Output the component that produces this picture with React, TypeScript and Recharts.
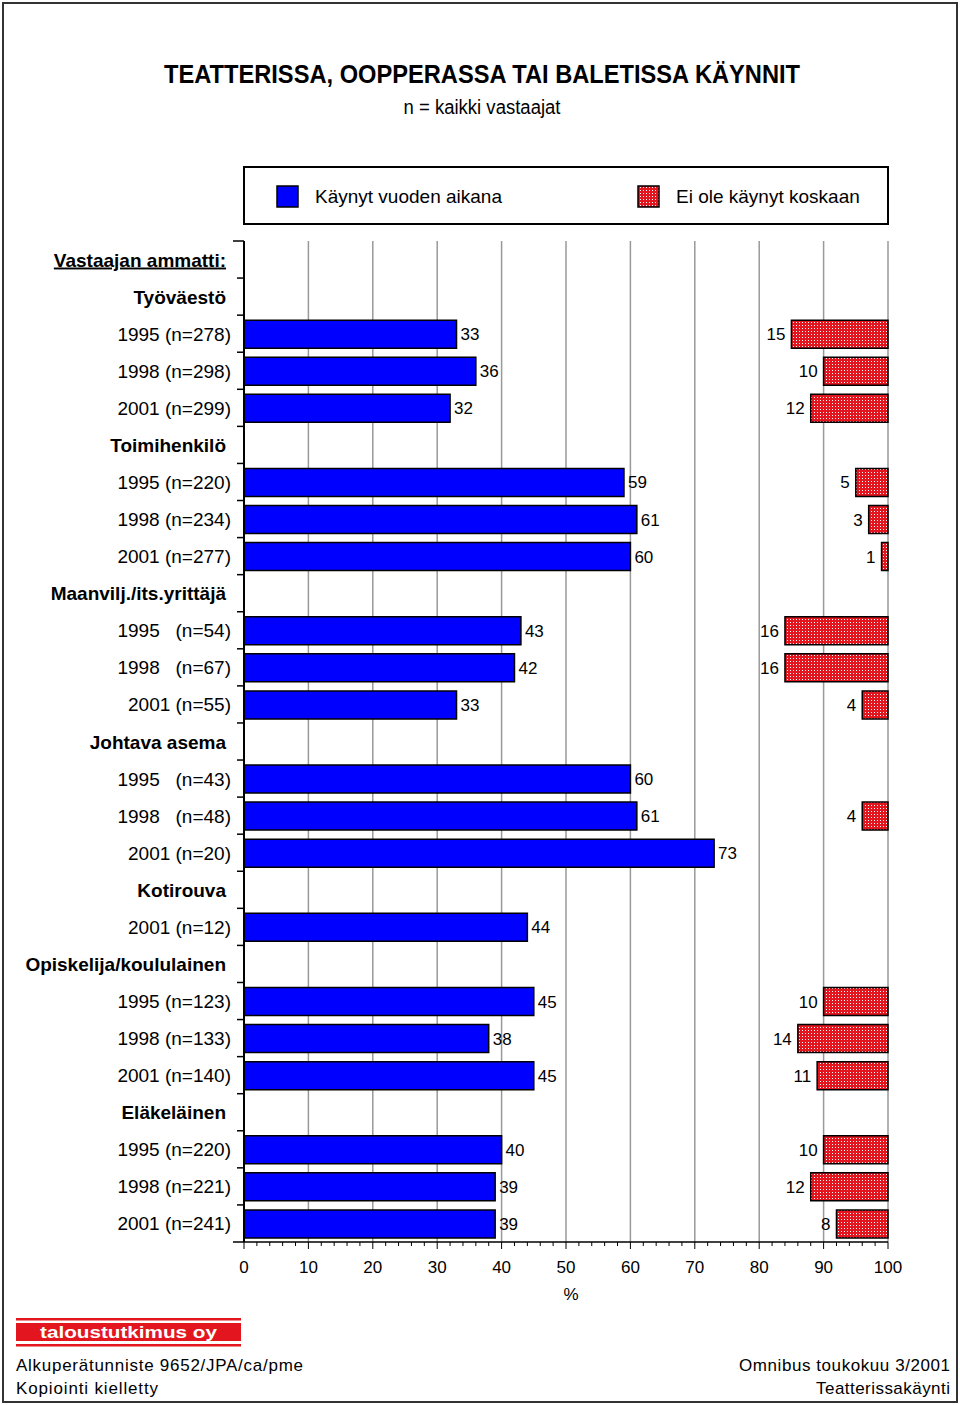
import React from "react";
import { BarChart, Bar, XAxis, YAxis, CartesianGrid, LabelList } from "recharts";

// Rows top to bottom (title row, group headers and yearly rows)
const ROW_LABELS = [
  "Vastaajan ammatti:",
  "Työväestö",
  "1995 (n=278)",
  "1998 (n=298)",
  "2001 (n=299)",
  "Toimihenkilö",
  "1995 (n=220)",
  "1998 (n=234)",
  "2001 (n=277)",
  "Maanvilj./its.yrittäjä",
  "1995   (n=54)",
  "1998   (n=67)",
  "2001 (n=55)",
  "Johtava asema",
  "1995   (n=43)",
  "1998   (n=48)",
  "2001 (n=20)",
  "Kotirouva",
  "2001 (n=12)",
  "Opiskelija/koululainen",
  "1995 (n=123)",
  "1998 (n=133)",
  "2001 (n=140)",
  "Eläkeläinen",
  "1995 (n=220)",
  "1998 (n=221)",
  "2001 (n=241)",
];

const GROUP_ROWS = [
  "Työväestö",
  "Toimihenkilö",
  "Maanvilj./its.yrittäjä",
  "Johtava asema",
  "Kotirouva",
  "Opiskelija/koululainen",
  "Eläkeläinen",
];

// "Käynyt vuoden aikana" (%)
const VISITED = [
  null, null, 33, 36, 32, null, 59, 61, 60, null, 43, 42, 33, null,
  60, 61, 73, null, 44, null, 45, 38, 45, null, 40, 39, 39,
];

// "Ei ole käynyt koskaan" (%)
const NEVER_VISITED = [
  null, null, 15, 10, 12, null, 5, 3, 1, null, 16, 16, 4, null,
  null, 4, null, null, null, null, 10, 14, 11, null, 10, 12, 8,
];

const MAJOR_TICKS = [0, 10, 20, 30, 40, 50, 60, 70, 80, 90, 100];
const MINOR_TICKS = [
  0, 2, 4, 6, 8, 10, 12, 14, 16, 18, 20, 22, 24, 26, 28, 30, 32, 34, 36, 38,
  40, 42, 44, 46, 48, 50, 52, 54, 56, 58, 60, 62, 64, 66, 68, 70, 72, 74, 76,
  78, 80, 82, 84, 86, 88, 90, 92, 94, 96, 98, 100,
];
const GRID_LINES = [10, 20, 30, 40, 50, 60, 70, 80, 90, 100];

const FONT = "'Liberation Sans', Arial, Helvetica, sans-serif";
const BLUE = "#0000ff";
const RED = "#e3161f";

const rows = ROW_LABELS.map((label, i) => {
  const v = VISITED[i];
  const n = NEVER_VISITED[i];
  return {
    key: String(i),
    visited: v ?? undefined,
    // empty space so the red bar ends at 100 %
    gap: v != null && n != null ? 100 - v - n : undefined,
    never: n ?? undefined,
  };
});

const PLOT_TOP = 241;
const PLOT_HEIGHT = 1001;
const HALF_BAND = PLOT_HEIGHT / ROW_LABELS.length / 2;

// vertical grid only at every 10 %, placed through the x axis scale
const gridX = (props: any) => {
  const { xAxis, offset } = props;
  if (xAxis && typeof xAxis.scale === "function") {
    return GRID_LINES.map((v) => xAxis.scale(v));
  }
  return GRID_LINES.map((v) => offset.left + (v / 100) * offset.width);
};

function RowTick(props: any) {
  const { x, y, payload } = props;
  const i = Number(payload.value);
  const label = ROW_LABELS[i];
  const isTitle = i === 0;
  const isGroup = GROUP_ROWS.includes(label);
  const last = i === ROW_LABELS.length - 1;
  return (
    <g>
      <line x1={x - (isTitle ? 11 : 7)} x2={x} y1={y - HALF_BAND} y2={y - HALF_BAND} stroke="#000" strokeWidth={1.5} />
      {last && <line x1={x - 11} x2={x} y1={y + HALF_BAND} y2={y + HALF_BAND} stroke="#000" strokeWidth={1.5} />}
      <text
        x={isTitle || isGroup ? x - 18 : x - 13}
        y={y + 7}
        textAnchor="end"
        fontSize={19}
        fontFamily={FONT}
        fontWeight={isTitle || isGroup ? 700 : 400}
        textDecoration={isTitle ? "underline" : undefined}
        fill="#000"
        style={{ whiteSpace: "pre" }}
      >
        {label}
      </text>
    </g>
  );
}

function PercentTick(props: any) {
  const { x, y, payload } = props;
  const major = MAJOR_TICKS.includes(payload.value);
  return (
    <g>
      <line x1={x} x2={x} y1={y} y2={y + (major ? 7 : 4)} stroke="#000" strokeWidth={1} />
      {major && (
        <text x={x} y={y + 31} textAnchor="middle" fontSize={17} fontFamily={FONT} fill="#000">
          {payload.value}
        </text>
      )}
    </g>
  );
}

function Overlay() {
  return (
    <svg width={960} height={1405} style={{ position: "absolute", left: 0, top: 0, pointerEvents: "none" }}>
      <defs>
        <pattern id="dotsLegend" width={3} height={3} patternUnits="userSpaceOnUse">
          <rect width={3} height={3} fill={RED} />
          <rect x={1} y={1} width={1} height={1} fill="#fff" />
        </pattern>
      </defs>
      <rect x={3} y={3} width={954} height={1399} fill="none" stroke="#333" strokeWidth={2} />

      <text x={482} y={83} textAnchor="middle" fontFamily={FONT} fontWeight={700} fontSize={25}
        textLength={636} lengthAdjust="spacingAndGlyphs">
        TEATTERISSA, OOPPERASSA TAI BALETISSA KÄYNNIT
      </text>
      <text x={482} y={114} textAnchor="middle" fontFamily={FONT} fontSize={20}
        textLength={157} lengthAdjust="spacingAndGlyphs">
        n = kaikki vastaajat
      </text>

      {/* legend */}
      <rect x={244} y={167} width={644} height={57} fill="#fff" stroke="#000" strokeWidth={2} />
      <rect x={277} y={186} width={21} height={21} fill={BLUE} stroke="#000" strokeWidth={1.5} />
      <text x={315} y={203} fontFamily={FONT} fontSize={19}>Käynyt vuoden aikana</text>
      <rect x={638} y={186} width={21} height={21} fill="url(#dotsLegend)" stroke="#000" strokeWidth={1.5} />
      <text x={676} y={203} fontFamily={FONT} fontSize={19}>Ei ole käynyt koskaan</text>

      <text x={571} y={1300} textAnchor="middle" fontFamily={FONT} fontSize={17}>%</text>

      {/* logo */}
      <rect x={16} y={1318} width={225} height={2.5} fill={RED} />
      <rect x={16} y={1323} width={225} height={18} fill={RED} />
      <rect x={16} y={1344} width={225} height={2.5} fill={RED} />
      <text x={40} y={1338} fontFamily={FONT} fontWeight={700} fontSize={17} fill="#fff"
        textLength={177} lengthAdjust="spacingAndGlyphs">
        taloustutkimus oy
      </text>

      {/* footer */}
      <text x={16} y={1371} fontFamily={FONT} fontSize={17} textLength={287} lengthAdjust="spacing">
        Alkuperätunniste 9652/JPA/ca/pme
      </text>
      <text x={16} y={1394} fontFamily={FONT} fontSize={17} textLength={142} lengthAdjust="spacing">
        Kopiointi kielletty
      </text>
      <text x={739} y={1371} fontFamily={FONT} fontSize={17} textLength={211} lengthAdjust="spacing">
        Omnibus toukokuu 3/2001
      </text>
      <text x={816} y={1394} fontFamily={FONT} fontSize={17} textLength={134} lengthAdjust="spacing">
        Teatterissakäynti
      </text>
    </svg>
  );
}

export default function App() {
  return (
    <div style={{ position: "absolute", left: 0, top: 0, width: 960, height: 1405, background: "#fff", fontFamily: FONT }}>
      <BarChart
        width={960}
        height={1405}
        data={rows}
        layout="vertical"
        margin={{ top: PLOT_TOP, right: 72, bottom: 103, left: 0 }}
        barSize={28}
      >
        <defs>
          <pattern id="dotsRed" width={3} height={3} patternUnits="userSpaceOnUse">
            <rect width={3} height={3} fill={RED} />
            <rect x={1} y={1} width={1} height={1} fill="#fff" />
          </pattern>
        </defs>
        <CartesianGrid
          horizontal={false}
          verticalCoordinatesGenerator={gridX}
          stroke="#999"
          strokeWidth={1.5}
        />
        <XAxis
          type="number"
          domain={[0, 100]}
          ticks={MINOR_TICKS}
          interval={0}
          height={60}
          tickSize={0}
          tickMargin={0}
          tickLine={false}
          axisLine={{ stroke: "#000", strokeWidth: 1.5 }}
          tick={<PercentTick />}
        />
        <YAxis
          type="category"
          dataKey="key"
          width={244}
          interval={0}
          tickSize={0}
          tickMargin={0}
          tickLine={false}
          axisLine={{ stroke: "#000", strokeWidth: 2 }}
          tick={<RowTick />}
        />
        <Bar dataKey="visited" stackId="s" fill={BLUE} stroke="#000" strokeWidth={1.5} isAnimationActive={false}>
          <LabelList dataKey="visited" position="right" offset={4} fill="#000" fontSize={17} fontFamily={FONT} />
        </Bar>
        <Bar dataKey="gap" stackId="s" fill="none" stroke="none" isAnimationActive={false} />
        <Bar dataKey="never" stackId="s" fill="url(#dotsRed)" stroke="#000" strokeWidth={1.5} isAnimationActive={false}>
          <LabelList dataKey="never" position="left" offset={6} fill="#000" fontSize={17} fontFamily={FONT} />
        </Bar>
      </BarChart>
      <Overlay />
    </div>
  );
}
